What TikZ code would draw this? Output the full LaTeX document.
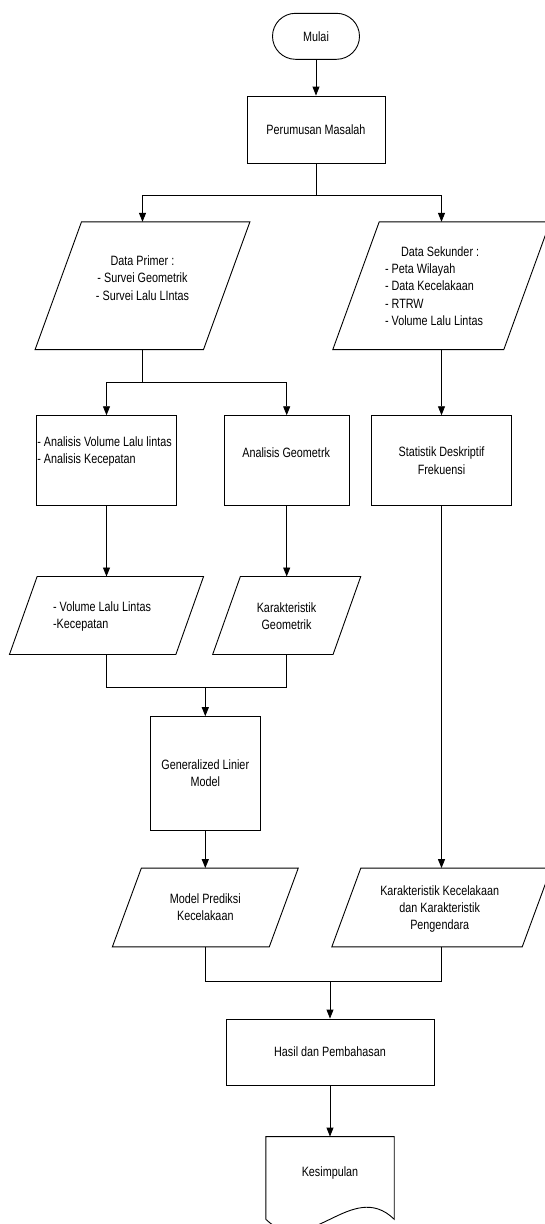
\documentclass[tikz,border=0pt]{standalone}
\usepackage{fontspec}
\setmainfont{Liberation Sans}[FakeStretch=0.8]
\usetikzlibrary{arrows.meta,calc}
\newcommand\iopara[2]{\draw[line] ([xshift=#2]#1.north west) -- ([xshift=#2]#1.north east) -- ([xshift=-#2]#1.south east) -- ([xshift=-#2]#1.south west) -- cycle;}
\begin{document}
\begin{tikzpicture}[x=1pt,y=-1pt,
  every node/.style={font=\fontsize{13.5}{17.3}\selectfont, text=black},
  box/.style={draw, line width=0.9pt, inner sep=0pt, align=center},
  io/.style={inner sep=0pt},
  txt/.style={inner sep=0pt, align=center},
  txtl/.style={inner sep=0pt, align=left},
  line/.style={line width=0.9pt},
  arr/.style={line width=0.9pt, -{Triangle[length=9pt,width=7pt]}}]
\fill[white] (0,0) rectangle (544,1224);
\useasboundingbox (0,0) rectangle (544,1224);

% nodes
\node[box, rounded corners=23pt, minimum width=87pt, minimum height=46pt] (mulai) at (316,36.3) {Mulai};
\node[box, minimum width=138pt, minimum height=67pt] (perum) at (316,129.5) {Perumusan Masalah};

\node[io, minimum width=168pt, minimum height=127.3pt] (dp) at (142.5,285.7) {};
\iopara{dp}{23.2pt}
\node[txt] (dpt) at (142.5,278) {Data Primer :\\- Survei Geometrik\\- Survei Lalu LIntas};

\node[io, minimum width=170.6pt, minimum height=127.3pt] (ds) at (441.5,285.7) {};
\iopara{ds}{23.2pt}
\node[txtl] (dst) at (434,286) {\hspace*{16pt}Data Sekunder :\\- Peta Wilayah\\- Data Kecelakaan\\- RTRW\\- Volume Lalu Lintas};

\node[box, minimum width=140.7pt, minimum height=90pt] (av) at (106.5,460.7) {};
\node[txtl] (avt) at (104.5,451.5) {- Analisis Volume Lalu lintas\\- Analisis Kecepatan};
\node[box, minimum width=125pt, minimum height=90pt] (ag) at (286.7,460.7) {};
\node[txt] (agt) at (286.2,452.7) {Analisis Geometrk};
\node[box, minimum width=140pt, minimum height=90pt] (sd) at (441.5,460.7) {Statistik Deskriptif\\Frekuensi};

\node[io, minimum width=166pt, minimum height=77.6pt] (vl) at (106.5,615.5) {};
\iopara{vl}{13.85pt}
\node[txtl] (vlt) at (102,616.3) {- Volume Lalu Lintas\\-Kecepatan};
\node[io, minimum width=120pt, minimum height=77.6pt] (kg) at (286.7,615.5) {};
\iopara{kg}{13.85pt}
\node[txt] (kgt) at (286.5,616.3) {Karakteristik\\Geometrik};

\node[box, minimum width=110pt, minimum height=113.3pt] (glm) at (205.3,773.3) {Generalized Linier\\Model};

\node[io, minimum width=156.5pt, minimum height=78.4pt] (mp) at (205.3,907.5) {};
\iopara{mp}{14.5pt}
\node[txt] (mpt) at (205.3,907.4) {Model Prediksi\\Kecelakaan};
\node[io, minimum width=190pt, minimum height=78.4pt] (kk) at (441.5,907.5) {};
\iopara{kk}{14.5pt}
\node[txt] (kkt) at (439.7,908.8) {Karakteristik Kecelakaan\\dan Karakteristik\\Pengendara};

\node[box, minimum width=208pt, minimum height=66pt] (hp) at (330,1052) {Hasil dan Pembahasan};

\node[io, minimum width=128pt, minimum height=82.3pt] (ks) at (330,1177.9) {};
\draw[line] (ks.south west) -- (ks.north west) -- (ks.north east) -- (ks.south east)
  .. controls ($(ks.south east)+(-42.7,-41.6)$) and ($(ks.south west)+(42.7,41.6)$) .. (ks.south west);
\node[txt] (kst) at (330,1172.7) {Kesimpulan};

% junction coordinates
\coordinate (s1) at (316,195);
\coordinate (s2) at (142.5,382.3);
\coordinate (m1) at (106.5,687.3);
\coordinate (m2) at (286.7,687.3);
\coordinate (m3) at (205.3,687.3);
\coordinate (n1) at (205.3,981);
\coordinate (n2) at (441.5,981);
\coordinate (n3) at (330,981);

% connectors
\draw[arr] (mulai) -- (perum);
\draw[line] (perum.south) -- (s1);
\draw[arr] (s1) -| (dp.north);
\draw[arr] (s1) -| (ds.north);
\draw[line] (dp.south) -- (s2);
\draw[arr] (s2) -| (av.north);
\draw[arr] (s2) -| (ag.north);
\draw[arr] (ds.south) -- (sd.north);
\draw[arr] (av.south) -- (vl.north);
\draw[arr] (ag.south) -- (kg.north);
\draw[line] (vl.south) -- (m1) -- (m2) -- (kg.south);
\draw[arr] (m3) -- (glm.north);
\draw[arr] (glm.south) -- (mp.north);
\draw[arr] (sd.south) -- (kk.north);
\draw[line] (mp.south) -- (n1) -- (n2) -- (kk.south);
\draw[arr] (n3) -- (hp.north);
\draw[arr] (hp.south) -- (ks.north);
\end{tikzpicture}
\end{document}
